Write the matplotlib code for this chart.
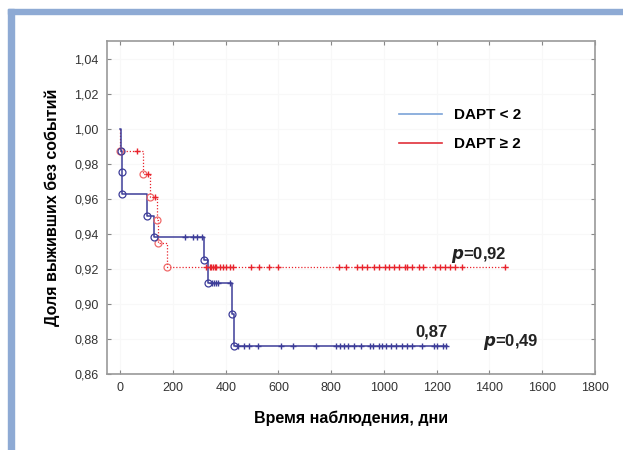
import numpy as np
import matplotlib
matplotlib.use('Agg')
import matplotlib.pyplot as plt
from matplotlib.lines import Line2D
from matplotlib.patches import Rectangle
from matplotlib.ticker import FuncFormatter

plt.rcParams['font.family'] = ['Liberation Sans', 'DejaVu Sans']

# DAPT < 2: event times (days) and survival after each event
blue_times = [0, 3, 5, 8, 100, 128, 317, 332, 423, 430]
blue_surv = [1.0, 0.9875, 0.975, 0.9625, 0.950, 0.938, 0.925, 0.912, 0.894, 0.876]
blue_censored = [245, 275, 290, 309, 347, 355, 362, 370, 415,
                 447, 468, 488, 522, 609, 656, 741, 818, 832, 848, 865,
                 885, 912, 946, 960, 980, 993, 1007, 1027, 1047, 1067,
                 1088, 1108, 1143, 1189, 1200, 1222, 1236]
blue_end = 1240

# DAPT >= 2
red_times = [0, 1, 87, 113, 138, 142, 177]
red_surv = [1.0, 0.9875, 0.974, 0.961, 0.948, 0.935, 0.921]
red_censored = [64, 106, 132, 327, 340, 346, 352, 358, 364, 377, 390,
                403, 415, 428, 497, 528, 566, 597, 830, 855, 899, 918,
                937, 962, 981, 1004, 1019, 1038, 1057, 1079, 1087, 1106,
                1132, 1147, 1195, 1214, 1233, 1252, 1270, 1295, 1459]
red_end = 1470

x_ticks = [0, 200, 400, 600, 800, 1000, 1200, 1400, 1600, 1800]
y_ticks = [0.86, 0.88, 0.90, 0.92, 0.94, 0.96, 0.98, 1.00, 1.02, 1.04]


def surv_at(times, surv, t):
    idx = np.searchsorted(times, t, side='right') - 1
    return np.array(surv)[idx]


fig = plt.figure(figsize=(6.23, 4.5), dpi=100)
# light blue frame on top and left
fig.patches.append(Rectangle((8 / 623, 0), 6 / 623, 1 - 9 / 450,
                             transform=fig.transFigure, color='#8eaad4', zorder=0))
fig.patches.append(Rectangle((8 / 623, 1 - 14 / 450), 1 - 8 / 623, 5 / 450,
                             transform=fig.transFigure, color='#8eaad4', zorder=0))

ax = fig.add_axes([107 / 623, 1 - 374 / 450, 488 / 623, 333 / 450])

navy = '#3d3d99'
red = '#e8232c'

# blue curve
bx = list(blue_times) + [blue_end]
by = list(blue_surv) + [blue_surv[-1]]
ax.step(bx, by, where='post', color=navy, lw=1.1, zorder=3)
ax.plot(blue_times[1:], blue_surv[1:], 'o', mfc='none', mec=navy,
        ms=5, mew=0.9, zorder=4)
ax.plot(blue_censored, surv_at(blue_times, blue_surv, blue_censored), '+',
        color=navy, ms=4.5, mew=1.0, zorder=4)

# red curve
rx = list(red_times) + [red_end]
ry = list(red_surv) + [red_surv[-1]]
ax.step(rx, ry, where='post', color=red, lw=0.9, ls=(0, (1, 1.5)), zorder=2)
ax.plot(red_times[1:], red_surv[1:], 'o', mfc='none', mec='#f06a6a',
        ms=5, mew=0.9, zorder=3)
ax.plot(red_censored, surv_at(red_times, red_surv, red_censored), '+',
        color=red, ms=4.5, mew=1.0, zorder=3)

ax.set_xlim(-50, 1800)
ax.set_ylim(0.86, 1.05)
ax.set_xticks(x_ticks)
ax.set_yticks(y_ticks)
ax.yaxis.set_major_formatter(FuncFormatter(lambda v, p: f'{v:.2f}'.replace('.', ',')))
ax.tick_params(direction='in', length=3, color='#888888', labelcolor='#333333',
               labelsize=9, top=True, right=True, pad=6)
for s in ax.spines.values():
    s.set_color('#999999')
    s.set_linewidth(1.2)
ax.grid(True, color='#f8f8f8', lw=0.8, zorder=0)

ax.set_xlabel('Время наблюдения, дни', fontsize=11.5, fontweight='bold', labelpad=12)
ax.set_ylabel('Доля выживших без событий', fontsize=11.5, fontweight='bold', labelpad=10)

ax.text(1253, 0.9278, r'$\boldsymbol{p}$=0,92', fontsize=12, fontweight='bold',
        va='center', ha='left', color='#222222')
ax.text(1120, 0.884, '0,87', fontsize=12, fontweight='bold',
        va='center', ha='left', color='#222222')
ax.text(1377, 0.8783, r'$\boldsymbol{p}$=0,49', fontsize=12, fontweight='bold',
        va='center', ha='left', color='#222222')

handles = [Line2D([], [], color='#7ba3d8', lw=1.2),
           Line2D([], [], color='#e0303a', lw=1.2)]
ax.legend(handles, ['DAPT < 2', 'DAPT ≥ 2'], loc='upper left',
          bbox_to_anchor=(0.57, 0.84), frameon=False, handlelength=2.8,
          labelspacing=1.0, prop={'weight': 'bold', 'size': 11})

fig.savefig('out.png', dpi=100)
